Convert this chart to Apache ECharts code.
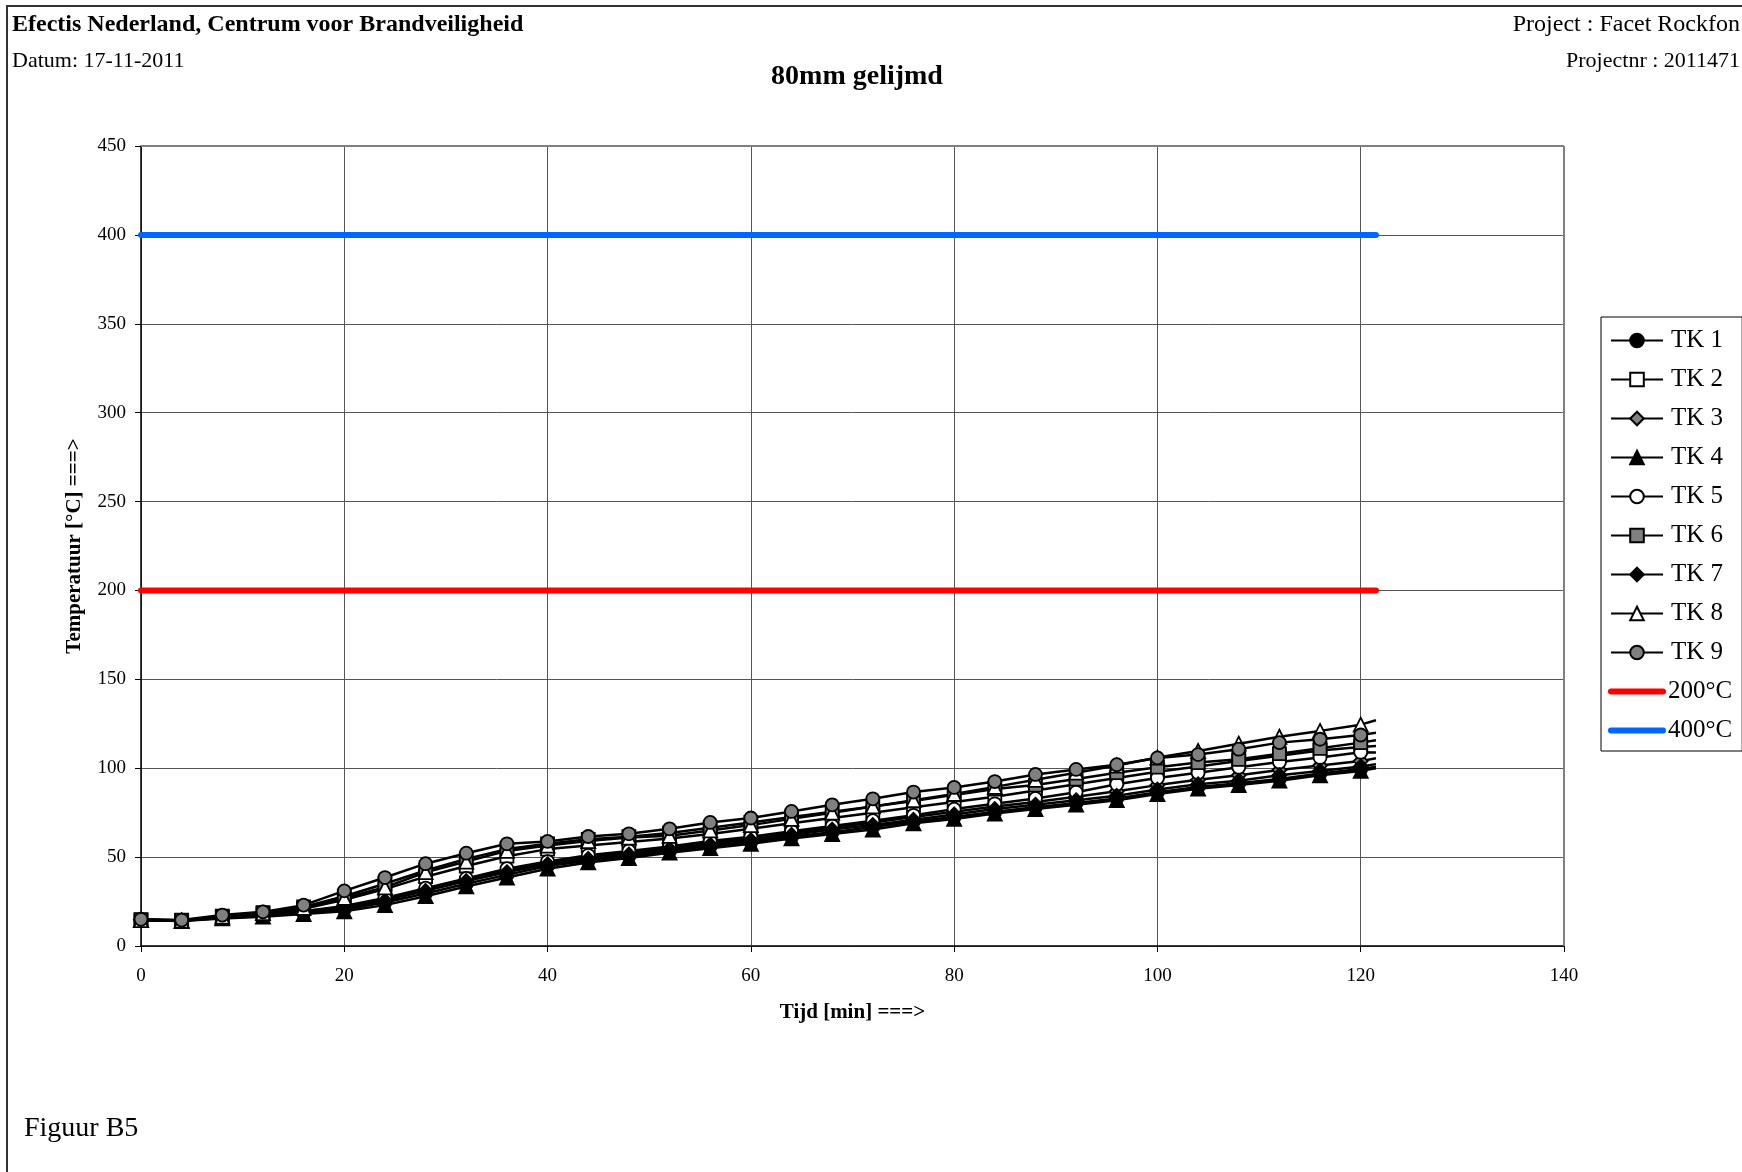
<!DOCTYPE html>
<html>
<head>
<meta charset="utf-8">
<script src="https://cdn.jsdelivr.net/npm/echarts@6/dist/echarts.min.js"></script>
<style>
html,body{margin:0;padding:0;background:#fff;}
#chart{width:1742px;height:1172px;}
</style>
</head>
<body>
<div id="chart"></div>
<script>
// ---- data ----
const times = [0,4,8,12,16,20,24,28,32,36,40,44,48,52,56,60,64,68,72,76,80,84,88,92,96,100,104,108,112,116,120];
const endTime = 121.5;
const seriesNames = ['TK 1','TK 2','TK 3','TK 4','TK 5','TK 6','TK 7','TK 8','TK 9'];
const tk1 = [14.8,14.2,15.8,17,18.5,20.5,24.5,29.5,35,40,45,48,50.5,53.5,56,58.5,61.5,64,67,70,72.5,75.5,78,80.5,83,86.5,89.5,91.5,94,97,99.5];
const tk2 = [14.6,14.2,16.2,18,21,26,32,39,45,50.5,54.5,56.5,58.5,60.5,63,66,69,72,75,78,81,84,87.5,91,94.5,98,101,104,107,110,112];
const tk3 = [14.8,14.4,16.2,17.5,19.5,22,26.5,32,37.5,42.5,47,50,52.5,55.5,58,60.5,63.5,66.5,69.5,72.5,75.5,78.5,81,84,87,90.5,93.5,96,99,101.5,104];
const tk4 = [14.5,14,15.5,16.5,18,19.5,23,28,33.5,38.5,43.5,47,49.5,52.5,55,57.5,60.5,63,65.5,69,71.5,74.5,77,79.5,82,85.5,88.5,90.5,93,96,98.5];
const tk5 = [14.5,14.2,16,17.5,19.5,22.5,27,32.5,38,43.5,47.5,51,53.5,56,59,61.5,64.5,67.5,70.5,73.5,77,80,83,86.5,91,94.5,97.5,100.5,103.5,106,109];
const tk6 = [14.8,14.5,16.8,18.8,22,28,35,42.5,49,54.5,57.5,60,61.5,63.5,66.5,69.5,72.5,75.5,78.5,81.5,85,88.3,90.5,93.9,97.5,100.6,103.2,105,108.2,111.2,114.4];
const tk7 = [14.7,14.3,16,17.2,19,21,25.5,31,36.5,41.5,46,49,51.5,54.5,57,59.5,62.5,65.5,68,71,74,77,79.5,82,84.5,88,91,93,96,98.5,101];
const tk8 = [14.5,14.3,16.5,18.5,21.5,27,33,41.5,47.5,53.5,56.5,59,61,62,65,68,71.5,75,78.5,82,85.5,89.5,93.5,97.5,101.5,106,109.7,113.8,117.7,121,124.5];
const tk9 = [15,14.6,17.4,19.2,23,31,38.5,46.3,52.2,57.5,58.8,61.6,63.1,65.9,69.5,72,75.7,79.4,82.8,86.6,89.2,92.5,96.5,99.3,102,105.8,107.7,110.7,114.4,116.3,118.7];
const endValues = [100.8,112.5,105.6,100,108.8,115.7,102.3,127,120];
const limitTimes = [0,121.5];
const limit200 = [200,200];
const limit400 = [400,400];
const xTicks = {min:0,max:140,interval:20};
const yTicks = {min:0,max:450,interval:50};

const tkValues = [tk1,tk2,tk3,tk4,tk5,tk6,tk7,tk8,tk9];
const symbols = ['circle','rect','diamond','triangle','circle','rect','diamond','triangle','circle'];
const fills = ['#000000','#ffffff','#808080','#000000','#ffffff','#808080','#000000','#ffffff','#808080'];

const FONT = '"Liberation Serif","Times New Roman",serif';

const series = tkValues.map((vals,i)=>{
  const data = times.map((t,j)=>[t, vals[j]]);
  data.push({value:[endTime, endValues[i]], symbol:'none'});
  return {
    name: seriesNames[i],
    type:'line',
    data: data,
    symbol: symbols[i],
    symbolSize: symbols[i]==='diamond' ? 14 : (symbols[i]==='triangle' ? 14 : 13),
    showAllSymbol: true,
    lineStyle:{color:'#000',width:2.5},
    itemStyle:{color:fills[i],borderColor:'#000',borderWidth:1.8},
    emphasis:{disabled:true},
    animation:false,
    z: 3
  };
});
series.push({
  name:'200°C', type:'line', symbol:'none',
  data: limitTimes.map((t,j)=>[t,limit200[j]]),
  lineStyle:{color:'#ff0000',width:6,cap:'round'},
  itemStyle:{color:'#ff0000'},
  animation:false, z:2
});
series.push({
  name:'400°C', type:'line', symbol:'none',
  data: limitTimes.map((t,j)=>[t,limit400[j]]),
  lineStyle:{color:'#0066ff',width:6,cap:'round'},
  itemStyle:{color:'#0066ff'},
  animation:false, z:2
});

const legendData = seriesNames.map(n=>({name:n, textStyle:{padding:[0,0,0,3]}}));
legendData.push({name:'200°C', itemStyle:{color:'rgba(0,0,0,0)',borderWidth:0}, lineStyle:{width:6,cap:'round',color:'#ff0000'}, textStyle:{padding:[0,0,0,0]}});
legendData.push({name:'400°C', itemStyle:{color:'rgba(0,0,0,0)',borderWidth:0}, lineStyle:{width:6,cap:'round',color:'#0066ff'}, textStyle:{padding:[0,0,0,0]}});

const chart = echarts.init(document.getElementById('chart'), null, {renderer:'canvas'});
chart.setOption({
  backgroundColor:'#ffffff',
  animation:false,
  textStyle:{fontFamily:FONT},
  grid:{left:141,right:178,top:146,bottom:226,show:false},
  xAxis:{
    type:'value', min:xTicks.min, max:xTicks.max, interval:xTicks.interval,
    name:'Tijd [min] ===>', nameLocation:'middle', nameGap:56,
    nameTextStyle:{fontFamily:FONT,fontSize:21,fontWeight:'bold',color:'#000'},
    axisLine:{show:true,onZero:false,lineStyle:{color:'#000',width:1.5}},
    axisTick:{show:true,inside:false,length:6,lineStyle:{color:'#000'}},
    axisLabel:{fontFamily:FONT,fontSize:19,color:'#000',margin:21},
    splitLine:{show:true,lineStyle:{color:'#555',width:1}}
  },
  yAxis:{
    type:'value', min:yTicks.min, max:yTicks.max, interval:yTicks.interval,
    name:'Temperatuur [°C] ===>', nameLocation:'middle', nameGap:56,
    nameTextStyle:{fontFamily:FONT,fontSize:21,fontWeight:'bold',color:'#000'},
    axisLine:{show:true,onZero:false,lineStyle:{color:'#000',width:1.5}},
    axisTick:{show:true,inside:false,length:6,lineStyle:{color:'#000'}},
    axisLabel:{fontFamily:FONT,fontSize:19,color:'#000',margin:15},
    splitLine:{show:true,lineStyle:{color:'#555',width:1}}
  },
  legend:{
    orient:'vertical', left:1601, top:317,
    padding:[11,10,8,7],
    itemWidth:52, itemHeight:17, itemGap:14,
    borderColor:'#000', borderWidth:1,
    backgroundColor:'#fff',
    selectedMode:false,
    textStyle:{fontFamily:FONT,fontSize:25,color:'#000',lineHeight:25},
    data: legendData
  },
  graphic:[
    {type:'polyline', silent:true, shape:{points:[[7,1172],[7,6],[1742,6]]}, style:{stroke:'#333',lineWidth:2,fill:null}},
    {type:'line', silent:true, shape:{x1:141,y1:146,x2:1564,y2:146}, style:{stroke:'#808080',lineWidth:2}, z:1},
    {type:'line', silent:true, shape:{x1:1564,y1:146,x2:1564,y2:946}, style:{stroke:'#808080',lineWidth:2}, z:1},
    {type:'text', left:12, top:13, style:{text:'Efectis Nederland, Centrum voor Brandveiligheid', font:'bold 24px "Liberation Serif"', fill:'#000'}},
    {type:'text', right:2, top:13, style:{text:'Project : Facet Rockfon', font:'24px "Liberation Serif"', fill:'#000'}},
    {type:'text', left:12, top:50, style:{text:'Datum: 17-11-2011', font:'22px "Liberation Serif"', fill:'#000'}},
    {type:'text', right:2, top:50, style:{text:'Projectnr : 2011471', font:'22px "Liberation Serif"', fill:'#000'}},
    {type:'text', x:857, y:63, style:{text:'80mm gelijmd', font:'bold 28px "Liberation Serif"', fill:'#000', textAlign:'center'}},
    {type:'text', left:24, top:1115, style:{text:'Figuur B5', font:'28px "Liberation Serif"', fill:'#000'}}
  ],
  series: series
});
</script>
</body>
</html>
